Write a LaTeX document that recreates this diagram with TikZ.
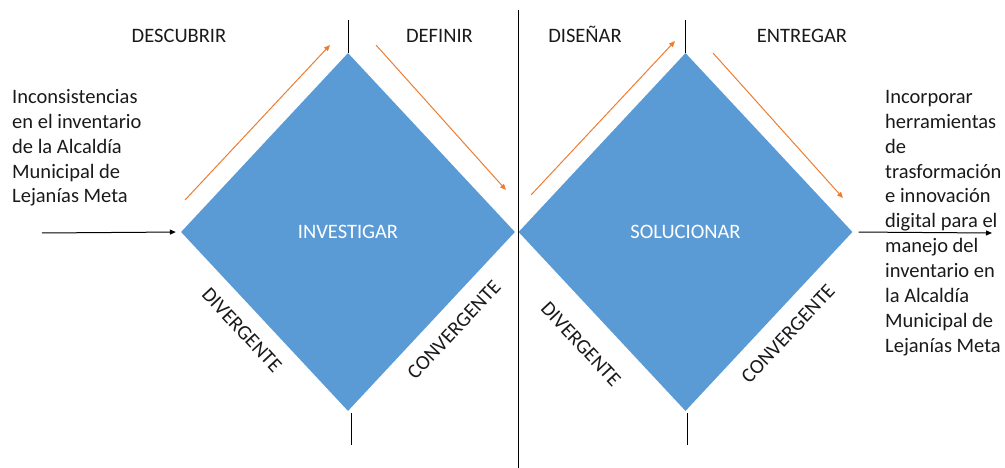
\documentclass[tikz,border=0pt]{standalone}
\usepackage{fontspec}
\setmainfont{Carlito}
\usetikzlibrary{shapes.geometric,arrows.meta}
\definecolor{dblue}{HTML}{5B9BD5}
\definecolor{dorange}{HTML}{ED7D31}
\definecolor{txt}{HTML}{1A1A1A}
\begin{document}
\begin{tikzpicture}[x=1pt,y=-1pt,
  every node/.style={font=\fontsize{20.5}{24.9}\selectfont, text=txt, inner sep=0pt},
  dia/.style={diamond, fill=dblue, minimum width=334pt, minimum height=358pt, inner sep=0pt, text=white},
  blk/.style={draw=black, line width=1pt},
  blkarr/.style={draw=black, line width=1pt, -{Triangle[length=6pt,width=5pt]}},
  orarr/.style={draw=dorange, line width=1pt, -{Triangle[length=6pt,width=5pt]}},
  phase/.style={anchor=base}]
\useasboundingbox (0,0) rectangle (1005,468);
% diamonds
\node[dia] (d1) at (348,232) {INVESTIGAR};
\node[dia] (d2) at (685.5,232) {SOLUCIONAR};
% phase labels
\node[phase] (l1) at (179,43) {DESCUBRIR};
\node[phase] (l2) at (439.5,43) {DEFINIR};
\node[phase] (l3) at (585,43) {DISEÑAR};
\node[phase] (l4) at (802,43) {ENTREGAR};
% side labels
\node[rotate=-47] (dv1) at (242,330) {DIVERGENTE};
\node[rotate=47] (cv1) at (454,330) {CONVERGENTE};
\node[rotate=-47] (dv2) at (581,344) {DIVERGENTE};
\node[rotate=47] (cv2) at (788,334) {CONVERGENTE};
% input / output texts
\node[align=left, anchor=north west] (inp) at (12,89) {Inconsistencias\\en el inventario\\de la Alcaldía\\Municipal de\\Lejanías Meta};
\node[align=left, anchor=north west] (outp) at (885,90) {Incorporar\\herramientas\\de\\trasformación\\e innovación\\digital para el\\manejo del\\inventario en\\la Alcaldía\\Municipal de\\Lejanías Meta};
% vertical lines
\coordinate (t1) at (348,20);
\coordinate (b1a) at (351,413);
\coordinate (b1b) at (351,445);
\coordinate (t2) at (685.5,20);
\coordinate (b2a) at (687,413);
\coordinate (b2b) at (687,445);
\coordinate (mtop) at (518,10);
\coordinate (mbot) at (518,468);
\draw[blk] (d1.north) -- (t1);
\draw[blk] (b1a) -- (b1b);
\draw[blk] (d2.north) -- (t2);
\draw[blk] (b2a) -- (b2b);
\draw[blk] (mtop) -- (mbot);
% in / out arrows
\coordinate (inA) at (42,233);
\coordinate (outB) at (992,233);
\draw[blkarr, shorten >=5pt] (inA) -- (d1.west);
\draw[blkarr, shorten <=6pt] (d2.east) -- (outB);
% orange arrows
\coordinate (o1a) at (185,200); \coordinate (o1b) at (330,45);
\coordinate (o2a) at (376,45);  \coordinate (o2b) at (506,190);
\coordinate (o3a) at (531,195); \coordinate (o3b) at (675,41);
\coordinate (o4a) at (713,53);  \coordinate (o4b) at (843,198);
\draw[orarr] (o1a) -- (o1b);
\draw[orarr] (o2a) -- (o2b);
\draw[orarr] (o3a) -- (o3b);
\draw[orarr] (o4a) -- (o4b);
\end{tikzpicture}
\end{document}
